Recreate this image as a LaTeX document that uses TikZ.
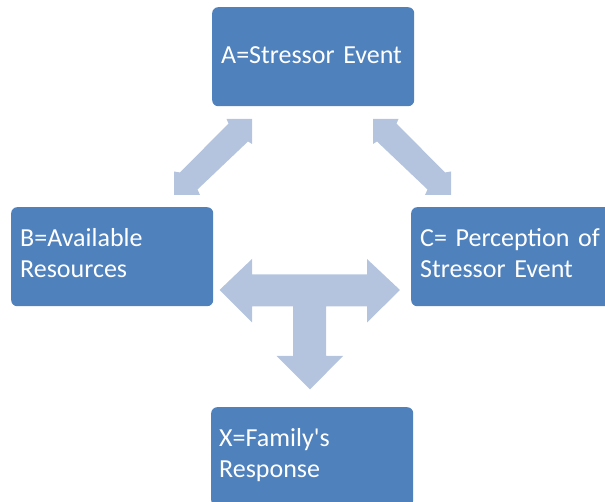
\documentclass[tikz,border=0pt]{standalone}
\usepackage{fontspec}
\setmainfont{Carlito}
\definecolor{boxblue}{RGB}{79,129,189}
\definecolor{arrowblue}{RGB}{180,196,222}
\begin{document}
\begin{tikzpicture}[x=1pt,y=-1pt,
  box/.style={fill=boxblue, rounded corners=6pt, minimum width=202pt, minimum height=99pt, inner sep=0pt, anchor=north west, draw=none},
  lbl/.style={text=white, font=\fontsize{26}{30.5}\selectfont, anchor=base west, inner sep=0pt, align=left, text width=190pt},
  blockarrow/.style={fill=arrowblue, draw=none}]
\useasboundingbox (0,0) rectangle (605,502);
\clip (0,0) rectangle (605,502);
% block arrows
\fill[blockarrow] (226.5,119) -- (252,119) -- (252,144) -- (248,141.5) -- (197.5,189.5) -- (200,195) -- (174,195) -- (174,171.5) -- (180,172.5) -- (228.5,123.5) -- cycle;
\fill[blockarrow] (398.5,119) -- (373,119) -- (373,144) -- (377,141.5) -- (427.5,189.5) -- (425,195) -- (451,195) -- (451,171.5) -- (445,172.5) -- (396.5,123.5) -- cycle;
\fill[blockarrow] (219.5,290) -- (252,259) -- (252,274.5) -- (367,274.5) -- (367,259) -- (400,290) -- (367,322.5) -- (367,306.5) -- (326,306.5) -- (326,356) -- (343,356) -- (310,389.5) -- (276.5,356) -- (293,356) -- (293,306.5) -- (252,306.5) -- (252,322.5) -- cycle;
% boxes
\node[box] (A) at (212,7) {};
\node[box] (B) at (11,207) {};
\node[box] (C) at (411,207) {};
\node[box] (X) at (211,407) {};
% labels
\node[lbl] (tA) at (221,63.3) {A=Stressor Event};
\node[lbl] (tB) at (20,246.7) {B=Available\\Resources};
\node[lbl] (tC) at (420,246.7) {C= Perception of\\Stressor Event};
\node[lbl] (tX) at (219,446.7) {X=Family\textquotesingle s\\Response};
\end{tikzpicture}
\end{document}
